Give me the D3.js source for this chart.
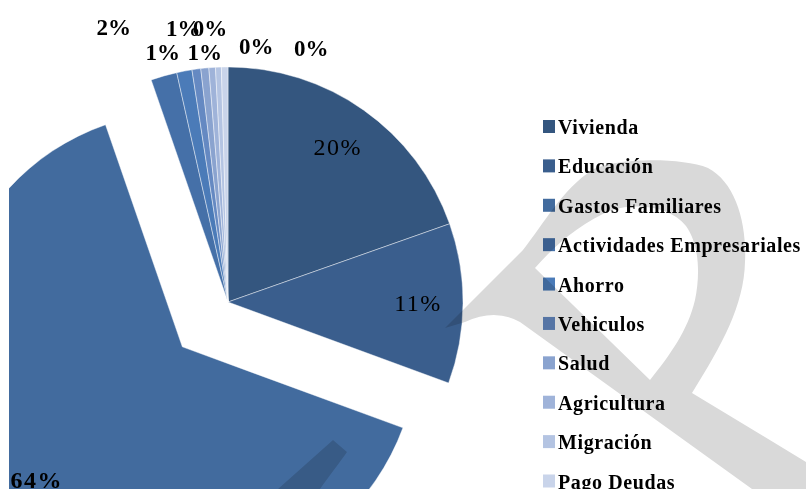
<!DOCTYPE html>
<html lang="es">
<head>
<meta charset="UTF-8">
<script src="https://cdn.jsdelivr.net/npm/d3@7"></script>
<title>Destino del crédito</title>
<style>
    body { margin: 0; background: #fff; }
    svg { display: block; }
    .lbl { font-family: 'Liberation Serif', 'Times New Roman', serif; fill: #000; }
    .legend text { font-family: 'Liberation Serif', 'Times New Roman', serif; font-weight: bold; font-size: 20px; letter-spacing: 0.6px; }
    .mark { mix-blend-mode: multiply; }
</style>
</head>
<body>
<script>
// categories and shares (%)
const categories = ['Vivienda', 'Educación', 'Gastos Familiares', 'Actividades Empresariales',
    'Ahorro', 'Vehiculos', 'Salud', 'Agricultura', 'Migración', 'Pago Deudas']
const values = [19.6, 11.0, 64.1, 1.8, 1.05, 0.6, 0.55, 0.45, 0.4, 0.45]
const colors = ['#34567f', '#3a5e8d', '#426b9e', '#4570a8', '#4b7bb8',
    '#6589c2', '#8aa3cf', '#9fb3d9', '#b4c4e2', '#c9d4ea']

// layout
const W = 806, H = 489
const cx = 228, cy = 302, R = 235
const explodeIndex = 2, explodeDist = 64
const insideR = 190, outsideR = 265
const clipLeft = 9
// Excel pushed the 64% label and the crowded outside labels away from their anchors
const insideNudge = [[0, 0], [0, 0], [-10, 0]]
const outsideNudge = [[-42, -12], [-16, 18], [-9, -3], [3, 22], [0, -2], [39, 17], [87, 19]]

const svg = d3.select('body').append('svg').attr('width', W).attr('height', H)

svg.append('defs').append('clipPath').attr('id', 'plot')
    .append('rect').attr('x', clipLeft).attr('y', 0).attr('width', W - clipLeft).attr('height', H)

const pie = d3.pie().sort(null).value(d => d)
const arcs = pie(values)
const arc = d3.arc().innerRadius(0).outerRadius(R)

let offset = (d, i) => {
    if (i !== explodeIndex) return [0, 0]
    let a = (d.startAngle + d.endAngle) / 2
    return [Math.sin(a) * explodeDist, -Math.cos(a) * explodeDist]
}

const g = svg.append('g').attr('clip-path', 'url(#plot)')
    .append('g').attr('transform', `translate(${cx},${cy})`)

g.selectAll('path')
    .data(arcs)
    .enter()
    .append('path')
    .attr('d', arc)
    .attr('transform', (d, i) => `translate(${offset(d, i)})`)
    .attr('fill', (d, i) => colors[i])
    .attr('stroke', '#fff')
    .attr('stroke-opacity', 0.55)
    .attr('stroke-width', 0.8)

// labels inside the three big slices
const inArc = d3.arc().innerRadius(insideR).outerRadius(insideR)
arcs.slice(0, 3).forEach((d, i) => {
    let [ox, oy] = offset(d, i)
    let [x, y] = inArc.centroid(d)
    svg.append('text')
        .attr('class', 'lbl')
        .attr('x', cx + x + ox + insideNudge[i][0])
        .attr('y', cy + y + oy + insideNudge[i][1])
        .attr('dy', '0.33em')
        .attr('text-anchor', 'middle')
        .style('font-size', '24px')
        .style('letter-spacing', '1.5px')
        .style('font-weight', i === explodeIndex ? 'bold' : 'normal')
        .text(Math.round(d.value) + '%')
})

// labels outside the small slices
const outArc = d3.arc().innerRadius(outsideR).outerRadius(outsideR)
arcs.slice(3).forEach((d, i) => {
    let [x, y] = outArc.centroid(d)
    svg.append('text')
        .attr('class', 'lbl')
        .attr('x', cx + x + outsideNudge[i][0])
        .attr('y', cy + y + outsideNudge[i][1])
        .attr('text-anchor', 'middle')
        .style('font-size', '23px')
        .style('font-weight', 'bold')
        .text(Math.round(d.value) + '%')
})

// legend
const legendY = d3.scalePoint().domain(categories).range([126.5, 481]).padding(0)
const legend = svg.append('g').attr('class', 'legend')
const item = legend.selectAll('g')
    .data(categories)
    .enter()
    .append('g')
    .attr('transform', d => `translate(543,${legendY(d)})`)
item.append('rect')
    .attr('x', 0).attr('y', -6.5)
    .attr('width', 12).attr('height', 13)
    .attr('fill', (d, i) => colors[i])
item.append('text')
    .attr('x', 15).attr('y', 7.5)
    .text(d => d)

// grey watermark printed over the page
svg.append('path')
    .attr('class', 'mark')
    .attr('fill', '#d9d9d9')
    .attr('fill-rule', 'evenodd')
    .attr('d', 'M445,328 L523,250 C545,222 562,190 592,170 C615,158 680,157 708,168 ' +
        'C735,182 747,222 745,262 C744,305 722,345 692,393 L806,462 L806,489 L752,489 ' +
        'L520,322 Q495,308 465,322 Z ' +
        'M535,268 C555,245 582,222 612,210 C640,202 672,208 686,226 C700,246 700,276 695,300 ' +
        'C688,330 670,355 650,380 Z')
svg.append('path')
    .attr('class', 'mark')
    .attr('fill', '#d9d9d9')
    .attr('d', 'M278,489 L333,440 L347,452 C340,462 330,475 320,489 Z')
</script>
</body>
</html>
